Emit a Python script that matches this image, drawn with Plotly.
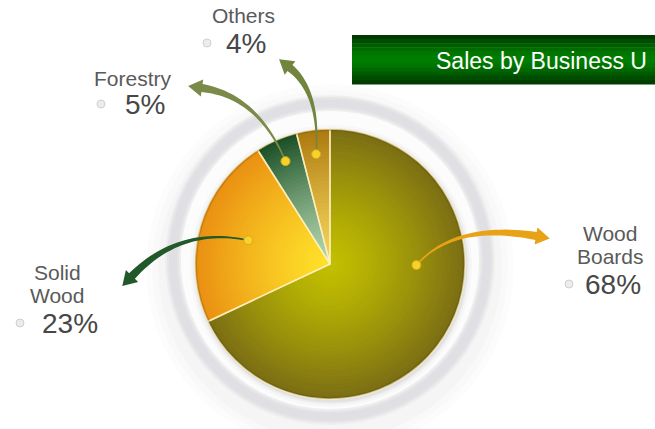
import math
import plotly.graph_objects as go

# ---- data ----
units = ["Wood Boards", "Solid Wood", "Forestry", "Others"]
shares = [68, 23, 5, 4]
name_lines = [["Wood", "Boards"], ["Solid", "Wood"], ["Forestry"], ["Others"]]
title_text = "Sales by Business U"

W, H = 655, 429

# slice colours: (centre colour, rim colour)
slice_cols = [
    ("#c2bf00", "#7b6e14"),   # Wood Boards
    ("#ffe12a", "#ea9012"),   # Solid Wood
    ("#b4d8b0", "#1c5127"),   # Forestry
    ("#f4d45a", "#ad7a10"),   # Others
]

# pie geometry in pixels
CX, CY, R = 330, 264, 135


def px(x):
    return x / W


def py(y):
    return 1 - y / H


def hex2rgb(h):
    h = h.lstrip("#")
    return tuple(int(h[i:i + 2], 16) for i in (0, 2, 4))


def mix(c_in, c_out, t):
    a, b = hex2rgb(c_in), hex2rgb(c_out)
    return "rgb(%d,%d,%d)" % tuple(round(a[i] + (b[i] - a[i]) * t) for i in range(3))


fig = go.Figure()

# radial shading: stacked concentric pies, each a little lighter toward the centre
N = 36
for k in range(N):
    s = 1 - k / N * 0.98
    t = min(1.0, s ** 1.3)
    colors = [mix(ci, co, t) for ci, co in slice_cols]
    fig.add_trace(go.Pie(
        labels=units, values=shares, sort=False, direction="clockwise",
        rotation=0, textinfo="none", hoverinfo="label+percent",
        marker=dict(colors=colors, line=dict(width=0)),
        domain=dict(x=[px(CX - R * s), px(CX + R * s)],
                    y=[py(CY + R * s), py(CY - R * s)]),
        showlegend=False,
    ))

# slice separators on top
fig.add_trace(go.Pie(
    labels=units, values=shares, sort=False, direction="clockwise",
    rotation=0, textinfo="none", hoverinfo="skip",
    marker=dict(colors=["rgba(0,0,0,0)"] * 4,
                line=dict(width=1.5, color="rgba(255,240,190,0.8)")),
    domain=dict(x=[px(CX - R), px(CX + R)], y=[py(CY + R), py(CY - R)]),
    showlegend=False,
))

shapes = []


def circle(cx, cy, r, **kw):
    d = dict(type="circle", xref="paper", yref="paper",
             x0=px(cx - r), x1=px(cx + r), y0=py(cy + r), y1=py(cy - r))
    d.update(kw)
    return d


# faint outer shadow, soft grey ring and a light shadow hugging the pie
RCX, RCY = 330, 260
for r, a in [(184, 0.010), (178, 0.012), (172, 0.015)]:
    shapes.append(circle(RCX, RCY + 8, r, fillcolor="rgba(0,0,0,%s)" % a,
                         line=dict(width=0), layer="below"))
for w, a in [(16, 0.3), (12, 0.55), (8, 0.8)]:
    shapes.append(circle(RCX, RCY, 157, fillcolor="rgba(0,0,0,0)",
                         line=dict(color="rgba(222,222,226,%s)" % a, width=w),
                         layer="below"))
shapes.append(circle(RCX, RCY, 149, fillcolor="#fcfcfc",
                     line=dict(width=0), layer="below"))
for r, a in [(141, 0.025), (138.5, 0.045), (136.5, 0.07)]:
    shapes.append(circle(CX + 1, CY + 2, r, fillcolor="rgba(60,60,60,%s)" % a,
                         line=dict(width=0), layer="below"))
# darker rim at the pie edge
shapes.append(circle(CX, CY, R - 1, fillcolor="rgba(0,0,0,0)",
                     line=dict(color="rgba(70,60,10,0.22)", width=2), layer="above"))

# title banner with vertical shading
bx0, bx1, by0, by1 = 352, 700, 35, 84
band_cols = ["#003a00", "#004c00", "#005e00", "#006c00", "#007600", "#007c00",
             "#007c00", "#007400", "#006800", "#005a00", "#004c00", "#003e00"]
nb = len(band_cols)
for i, c in enumerate(band_cols):
    ya = by0 + (by1 - by0) * i / nb
    yb = by0 + (by1 - by0) * (i + 1) / nb + 0.6
    shapes.append(dict(type="rect", xref="paper", yref="paper",
                       x0=px(bx0), x1=px(bx1), y0=py(yb), y1=py(ya),
                       fillcolor=c, line=dict(width=0), layer="above"))


# curved, tapering leader arrows
def arrow_path(p0, p1, p2, w0, w1, head_w, head_l, n=30):
    pts = []
    for i in range(n + 1):
        t = i / n
        x = (1 - t) ** 2 * p0[0] + 2 * (1 - t) * t * p1[0] + t ** 2 * p2[0]
        y = (1 - t) ** 2 * p0[1] + 2 * (1 - t) * t * p1[1] + t ** 2 * p2[1]
        dx = 2 * (1 - t) * (p1[0] - p0[0]) + 2 * t * (p2[0] - p1[0])
        dy = 2 * (1 - t) * (p1[1] - p0[1]) + 2 * t * (p2[1] - p1[1])
        L = math.hypot(dx, dy)
        pts.append((x, y, dx / L, dy / L))
    left, right = [], []
    for i, (x, y, ux, uy) in enumerate(pts):
        w = (w0 + (w1 - w0) * (i / n) ** 1.5) / 2
        left.append((x - uy * w, y + ux * w))
        right.append((x + uy * w, y - ux * w))
    ex, ey, ux, uy = pts[-1]
    head = [(ex - uy * head_w, ey + ux * head_w),
            (ex + ux * head_l, ey + uy * head_l),
            (ex + uy * head_w, ey - ux * head_w)]
    poly = left + head + right[::-1]
    return "M " + " L ".join("%.5f,%.5f" % (px(x), py(y)) for x, y in poly) + " Z"


def anchor(idx, frac, shift=0.0):
    start = sum(shares[:idx]) / sum(shares) * 360
    mid = start + shares[idx] / sum(shares) * 180 + shift
    a = math.radians(mid)
    return (CX + R * frac * math.sin(a), CY - R * frac * math.cos(a))


anchors = [anchor(0, 0.64, -31.7), anchor(1, 0.63), anchor(2, 0.83), anchor(3, 0.82)]
arrow_specs = [
    # control point, end point, colour
    ((455, 222), (536, 236), "#e8a218"),
    ((180, 226), (132, 276), "#22592a"),
    ((258, 96), (202, 88), "#7a8a48"),
    ((320, 92), (290, 68), "#72853f"),
]
for (sx, sy), (ctrl, end, col) in zip(anchors, arrow_specs):
    shapes.append(dict(type="path", xref="paper", yref="paper",
                       path=arrow_path((sx, sy), ctrl, end, 1.5, 8, 8.5, 14),
                       fillcolor=col, line=dict(width=0), layer="above"))
for sx, sy in anchors:
    shapes.append(circle(sx, sy, 4.5, fillcolor="#f6d32a",
                         line=dict(color="#d9a818", width=1), layer="above"))

# label layout: name centre x, first-line y, percent x, percent y, bullet x
label_pos = [
    (610, 233, 583, 284, 569),
    (57, 272, 40, 323, 20),
    (133, 79, 123, 104, 101),
    (243, 15, 224, 43, 207),
]
LINE_H = 23
annotations = []
for lines, sh, (nx, ny, qx, qy, bx) in zip(name_lines, shares, label_pos):
    for j, ln in enumerate(lines):
        annotations.append(dict(text=ln, x=px(nx), y=py(ny + j * LINE_H),
                                xref="paper", yref="paper",
                                xanchor="center", yanchor="middle", showarrow=False,
                                font=dict(family="Liberation Sans, Arial", size=21,
                                          color="#5a5a5a")))
    annotations.append(dict(text="%d%%" % sh, x=px(qx), y=py(qy), xref="paper",
                            yref="paper", xanchor="left", yanchor="middle",
                            showarrow=False,
                            font=dict(family="Liberation Sans, Arial", size=28,
                                      color="#474747")))
    shapes.append(circle(bx, qy, 4, fillcolor="#ececec",
                         line=dict(color="#d0d0d0", width=1), layer="above"))

annotations.append(dict(text=title_text, x=px(434), y=py(61), xref="paper", yref="paper",
                        xanchor="left", yanchor="middle", showarrow=False,
                        font=dict(family="Liberation Sans, Arial", size=23,
                                  color="#ffffff")))

fig.update_layout(
    width=W, height=H, margin=dict(l=0, r=0, t=0, b=0),
    paper_bgcolor="#ffffff", plot_bgcolor="#ffffff",
    shapes=shapes, annotations=annotations, showlegend=False,
)

fig.write_html("out.html")
